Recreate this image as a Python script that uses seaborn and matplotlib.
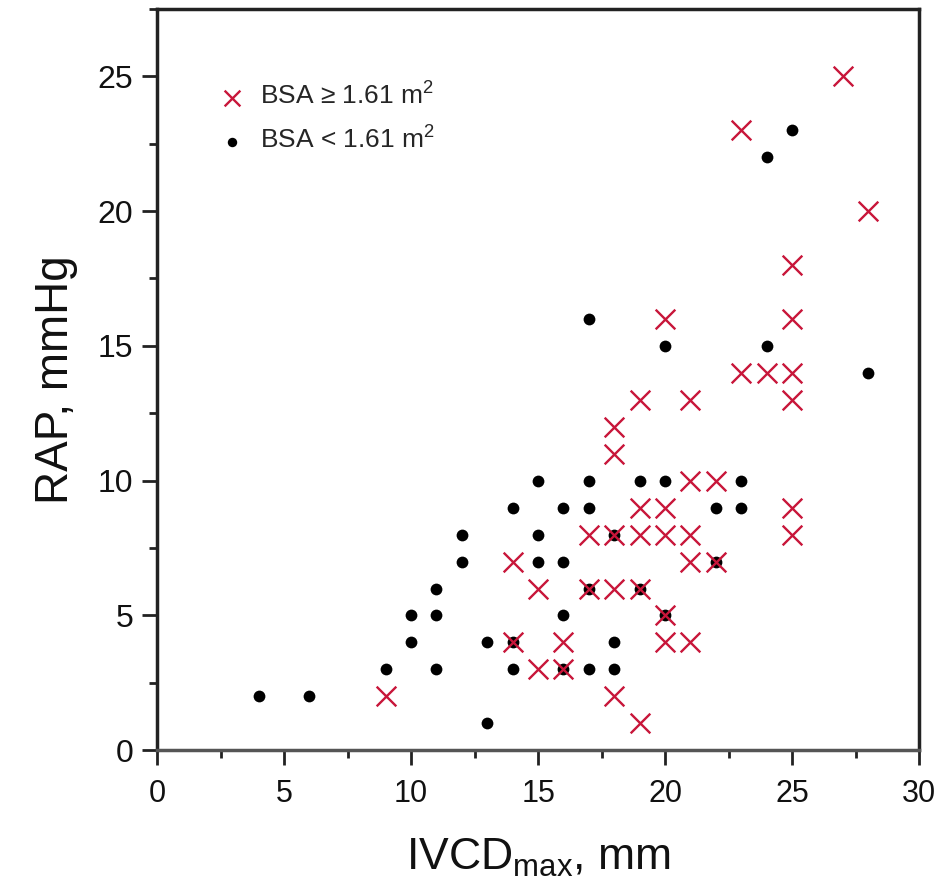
import matplotlib
matplotlib.use("Agg")
import matplotlib.pyplot as plt
import seaborn as sns
import pandas as pd
from matplotlib.ticker import MultipleLocator

# BSA >= 1.61 m2 (red crosses)
big_x = [9, 14, 14, 15, 15, 16, 16, 17, 17, 18, 18, 18, 18, 18, 19, 19, 19, 19, 19,
         20, 20, 20, 20, 20, 21, 21, 21, 21, 21, 22, 22, 23, 23, 24, 25, 25, 25, 25, 25, 25, 27, 28]
big_y = [2, 7, 4, 6, 3, 4, 3, 8, 6, 12, 11, 8, 6, 2, 13, 9, 8, 6, 1,
         16, 9, 8, 5, 4, 13, 10, 8, 7, 4, 10, 7, 23, 14, 14, 18, 16, 14, 13, 9, 8, 25, 20]

# BSA < 1.61 m2 (black dots)
small_x = [4, 6, 9, 10, 10, 11, 11, 11, 12, 12, 13, 13, 14, 14, 14, 15, 15, 15, 16, 16, 16, 16,
           17, 17, 17, 17, 17, 18, 18, 18, 19, 19, 20, 20, 20, 22, 22, 23, 23, 24, 24, 25, 28]
small_y = [2, 2, 3, 5, 4, 6, 5, 3, 8, 7, 4, 1, 9, 4, 3, 10, 8, 7, 9, 7, 5, 3,
           16, 10, 9, 6, 3, 8, 4, 3, 10, 6, 15, 10, 5, 9, 7, 10, 9, 22, 15, 23, 14]

labels = ["BSA \u2265 1.61 m$^2$", "BSA < 1.61 m$^2$"]
x_ticks = [0, 5, 10, 15, 20, 25, 30]
y_ticks = [0, 5, 10, 15, 20, 25]

sns.set_theme(style="ticks")
plt.rcParams["font.family"] = ["Liberation Sans", "DejaVu Sans"]
plt.rcParams["mathtext.fontset"] = "custom"
plt.rcParams["mathtext.rm"] = "Liberation Sans"
plt.rcParams["mathtext.it"] = "Liberation Sans:italic"

df_big = pd.DataFrame({"IVCD": big_x, "RAP": big_y})
df_small = pd.DataFrame({"IVCD": small_x, "RAP": small_y})

fig = plt.figure(figsize=(9.35, 8.9), dpi=100)
ax = fig.add_axes([0.168, 0.157, 0.815, 0.833])

red = "#C8163A"
sns.scatterplot(data=df_small, x="IVCD", y="RAP", ax=ax, color="black", marker="o",
                s=72, edgecolor="black", linewidth=0, label=labels[1], zorder=3)
sns.scatterplot(data=df_big, x="IVCD", y="RAP", ax=ax, color=red, marker="x",
                s=200, linewidth=1.7, label=labels[0], zorder=4)

ax.set_xlim(0, 30)
ax.set_ylim(0, 27.5)
ax.set_xticks(x_ticks)
ax.set_yticks(y_ticks)
ax.xaxis.set_minor_locator(MultipleLocator(2.5))
ax.yaxis.set_minor_locator(MultipleLocator(2.5))
ax.tick_params(axis="both", which="major", direction="out", length=11, width=2,
               labelsize=22, pad=10, color="#222222", labelcolor="#111111")
ax.tick_params(axis="both", which="minor", direction="out", length=6, width=2,
               color="#222222")
ax.tick_params(axis="y", which="major", pad=6, labelsize=23)
for sp in ax.spines.values():
    sp.set_visible(True)
    sp.set_linewidth(2.5)
    sp.set_color("#222222")
ax.spines["bottom"].set_color("#555555")

ax.set_xlabel(r"IVCD$_{\mathrm{max}}$, mm", fontsize=32, labelpad=20, color="#111111")
ax.set_ylabel("RAP, mmHg", fontsize=33, labelpad=14, color="#111111")

handles, lbls = ax.get_legend_handles_labels()
order = [lbls.index(labels[0]), lbls.index(labels[1])]
ax.legend([handles[i] for i in order], [lbls[i] for i in order],
          loc="upper left", bbox_to_anchor=(0.05, 0.933), frameon=False,
          fontsize=19, handletextpad=0.55, labelspacing=0.65, markerscale=0.8,
          handlelength=1.0)

fig.savefig("out.png", dpi=100, facecolor="white")
